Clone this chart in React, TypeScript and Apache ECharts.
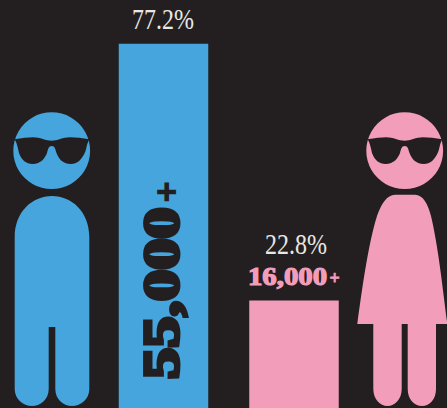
import React, { useEffect, useRef } from "react";
import * as echarts from "echarts";

const categories = ["Men", "Women"];
const shareValues = [77.2, 22.8];
const shareLabels = ["77.2%", "22.8%"];
const countLabels = ["55,000", "16,000"];
const BG = "#231f20";
const BLUE = "#45a5dc";
const PINK = "#f29ebb";

const GLASSES =
  "M14.5 139.3 C22 138 28 137.2 33.3 137.2 C40 137.2 46 140.7 51.7 140.7 C57 140.7 63 137.2 70 137.2 C76 137.2 82 138 89.5 139.3 C87 143 87 146 85.5 151 C82 160 77 164 71 164 C62 164 58.5 158 56.5 153 C55.2 149 55 146 51.7 146 C48.5 146 48.2 149 47 153 C45 158 41 164 32.5 164 C26 164 21.5 160 19 153 C17.5 147 17 143 14.5 139.3 Z";
const MAN =
  "M14.7 237 C14.7 212 32 196 52 196 C72 196 89.3 212 89.3 237 L89.3 389 C89.3 399 81 406 72 406 C63 406 55.3 399 55.3 389 L55.3 327 L48.7 327 L48.7 389 C48.7 399 41 406 32 406 C23 406 14.7 399 14.7 389 Z";
const WOMAN =
  "M395 194.7 L415 194.7 C423 194.7 428 204 431 216 C438 245 443 290 447.3 324 L436 324 L436 389 C436 399 430 406 422 406 C414 406 407.7 399 407.7 389 L407.7 324 L401.7 324 L401.7 389 C401.7 399 395 406 387.5 406 C380 406 373.3 399 373.3 389 L373.3 324 L357.3 324 C362 290 368 245 377 216 C381 204 387 194.7 395 194.7 Z";

function pathShape(name: string, d: string) {
  echarts.graphic.registerShape(name, (echarts.graphic as any).extendPath(d, {}));
}
pathShape("glassesIcon", GLASSES);
pathShape("manIcon", MAN);
pathShape("womanIcon", WOMAN);

export default function App() {
  const ref = useRef<HTMLDivElement>(null);
  useEffect(() => {
    document.body.style.margin = "0";
    document.body.style.background = BG;
    const chart = echarts.init(ref.current!, null, { renderer: "svg" });
    const serif = "'Liberation Serif', serif";
    chart.setOption({
      animation: false,
      backgroundColor: BG,
      grid: { left: 98.25, width: 261, top: 0, bottom: 0 },
      xAxis: { type: "category", data: categories, show: false },
      yAxis: { type: "value", min: 0, max: 86.5, show: false },
      series: [
        {
          type: "bar",
          barWidth: 89.5,
          data: shareValues.map((v, i) => ({ value: v, itemStyle: { color: i === 0 ? BLUE : PINK } })),
        },
      ],
      graphic: [
        { type: "circle", z: 10, shape: { cx: 51.7, cy: 150.7, r: 38.4 }, style: { fill: BLUE } },
        { type: "manIcon", z: 10, x: 0, y: 0, style: { fill: BLUE } },
        { type: "glassesIcon", z: 11, x: 0, y: 0, style: { fill: BG } },
        { type: "circle", z: 10, shape: { cx: 404.7, cy: 150.7, r: 38.4 }, style: { fill: PINK } },
        { type: "womanIcon", z: 10, x: 0, y: 0, style: { fill: PINK } },
        { type: "glassesIcon", z: 11, x: 353, y: 0, style: { fill: BG } },
        {
          type: "text", z: 10, x: 163, y: 19, scaleX: 0.8,
          style: { text: shareLabels[0], fill: "#e8e7e6", font: `30px ${serif}`, align: "center", verticalAlign: "middle" },
        },
        {
          type: "text", z: 10, x: 296, y: 244, scaleX: 0.8,
          style: { text: shareLabels[1], fill: "#e8e7e6", font: `30px ${serif}`, align: "center", verticalAlign: "middle" },
        },
        {
          type: "text", z: 10, x: 161, y: 379, rotation: Math.PI / 2, scaleX: 1.2, scaleY: 0.98,
          style: { text: countLabels[0], fill: BG, stroke: BG, lineWidth: 4, font: `bold 52px ${serif}`, align: "left", verticalAlign: "middle" },
        },
        {
          type: "text", z: 10, x: 167, y: 192, rotation: Math.PI / 2,
          style: { text: "+", fill: BG, stroke: BG, lineWidth: 2, font: `bold 36px ${serif}`, align: "center", verticalAlign: "middle" },
        },
        {
          type: "text", z: 10, x: 248, y: 277, scaleX: 1.15,
          style: { text: countLabels[1], fill: PINK, stroke: PINK, lineWidth: 1.2, font: `bold 25px ${serif}`, align: "left", verticalAlign: "middle" },
        },
        {
          type: "text", z: 10, x: 334.5, y: 278,
          style: { text: "+", fill: PINK, stroke: PINK, lineWidth: 0.8, font: `bold 18px ${serif}`, align: "center", verticalAlign: "middle" },
        },
      ],
    });
    return () => chart.dispose();
  }, []);
  return <div ref={ref} style={{ width: 447, height: 408, overflow: "hidden" }} />;
}
